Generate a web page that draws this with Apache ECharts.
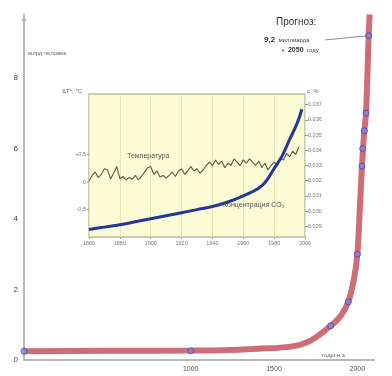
<!DOCTYPE html>
<html><head><meta charset="utf-8">
<script src="https://cdn.jsdelivr.net/npm/echarts@6/dist/echarts.min.js"></script>
<style>html,body{margin:0;padding:0;background:#fff}#c{width:392px;height:376px}</style>
</head><body><div id="c"></div>
<script>
// ---- main chart: world population (billions) ----
const popLineYears  = [0, 500, 1000, 1200, 1400, 1600, 1720, 1840, 1900, 1946, 1980, 2000, 2015, 2028, 2040, 2052, 2068, 2074];
const popLineValues = [0.25, 0.26, 0.27, 0.28, 0.32, 0.38, 0.55, 0.97, 1.25, 1.65, 2.3, 3.0, 4.3, 5.5, 6.4, 7.0, 9.2, 9.8];
const popPointYears  = [0, 1000, 1840, 1946, 2000, 2028, 2032, 2042, 2052, 2068];
const popPointValues = [0.25, 0.26, 0.97, 1.65, 3.0, 5.5, 6.0, 6.5, 7.0, 9.2];
const leaderYears  = [1808, 2068];
const leaderValues = [9.08, 9.2];
const mainXTicks = [1000, 1500, 2000];
const mainYTicks = [0, 2, 4, 6, 8];

// ---- inset: temperature & CO2 ----
const tempYears = [1860,1862,1864,1866,1868,1870,1872,1874,1876,1878,1880,1882,1884,1886,1888,1890,1892,1894,1896,1898,
  1900,1902,1904,1906,1908,1910,1912,1914,1916,1918,1920,1922,1924,1926,1928,1930,1932,1934,1936,1938,
  1940,1942,1944,1946,1948,1950,1952,1954,1956,1958,1960,1962,1964,1966,1968,1970,1972,1974,1976,1978,
  1980,1982,1984,1986,1988,1990,1992,1994,1996];
const tempValues = [0.02,0.12,0.18,0.08,0.14,0.24,0.22,0.06,0.16,0.28,0.06,0.10,0.04,0.08,0.05,0.12,0.04,0.10,0.18,0.26,
  0.28,0.14,0.20,0.09,0.12,0.07,0.12,0.18,0.10,0.20,0.24,0.14,0.20,0.28,0.20,0.24,0.16,0.22,0.30,0.36,
  0.30,0.40,0.32,0.38,0.26,0.34,0.30,0.42,0.36,0.30,0.40,0.34,0.42,0.36,0.30,0.38,0.26,0.34,0.22,0.30,
  0.36,0.30,0.44,0.40,0.52,0.46,0.56,0.50,0.64];
const co2Years  = [1860, 1870, 1880, 1890, 1900, 1910, 1920, 1930, 1940, 1950, 1960, 1970, 1975, 1980, 1985, 1990, 1995, 1998];
const co2Values = [0.0288, 0.02895, 0.0291, 0.0293, 0.0295, 0.0297, 0.0299, 0.0301, 0.0303, 0.0306, 0.0310, 0.0315, 0.0320, 0.0328, 0.0336, 0.0347, 0.0358, 0.0367];
const insetXTicks = [1860, 1880, 1900, 1920, 1940, 1960, 1980, 2000];
const tempTicks = [-0.5, 0, 0.5];
const co2Ticks = [0.029, 0.030, 0.031, 0.032, 0.033, 0.034, 0.035, 0.036, 0.037];

const FONT = '"Liberation Sans", Arial, sans-serif';
const zip = (a, b) => a.map((v, i) => [v, b[i]]);
const near = (list, v) => list.some(t => Math.abs(t - v) < 1e-6);
const ru = s => String(s).replace('.', ',');

const chart = echarts.init(document.getElementById('c'), null, {renderer: 'canvas'});
chart.setOption({
  animation: false,
  backgroundColor: '#ffffff',
  textStyle: {fontFamily: FONT},
  grid: [
    {left: 24, top: 14.5, width: 350, height: 345.5, show: false},
    {left: 89, top: 94, width: 216, height: 143, show: true, backgroundColor: '#fbfbd6',
     borderColor: '#bcbc98', borderWidth: 1.5, z: 5}
  ],
  xAxis: [
    {gridIndex: 0, type: 'value', min: 0, max: 2100, interval: 500,
     axisLine: {show: true, onZero: false, lineStyle: {color: '#b8b8b8', width: 2}},
     axisTick: {show: false}, splitLine: {show: false},
     axisLabel: {customValues: mainXTicks, formatter: v => near(mainXTicks, v) ? String(v) : '',
                 fontSize: 7, color: '#555', margin: 6, fontFamily: FONT}},
    {gridIndex: 1, type: 'value', min: 1860, max: 2000, interval: 20, z: 6,
     axisLine: {show: false, onZero: false},
     axisTick: {show: true, length: 2, lineStyle: {color: '#999'}},
     splitLine: {show: true, lineStyle: {color: '#e6e6bc', width: 1}},
     axisLabel: {fontSize: 5.5, color: '#777', margin: 3, fontFamily: FONT,
                 formatter: v => near(insetXTicks, v) ? String(v) : ''}}
  ],
  yAxis: [
    {gridIndex: 0, type: 'value', min: 0, max: 9.8, interval: 2,
     axisLine: {show: true, onZero: false, symbol: ['none', 'arrow'], symbolSize: [4, 7], lineStyle: {color: '#b8b8b8', width: 2}},
     axisTick: {show: false}, splitLine: {show: false},
     axisLabel: {customValues: mainYTicks, formatter: v => near(mainYTicks, v) ? String(v) : '',
                 fontSize: 8, color: '#444', margin: 6, fontFamily: FONT}},
    {gridIndex: 1, type: 'value', position: 'left', min: -1, max: 1.6, interval: 0.5, z: 6,
     axisLine: {show: false, onZero: false},
     axisTick: {show: true, customValues: tempTicks, length: 2, lineStyle: {color: '#999'}},
     splitLine: {show: false},
     axisLabel: {customValues: tempTicks, fontSize: 5.5, color: '#777', margin: 3, fontFamily: FONT,
                 formatter: v => near(tempTicks, v) ? (v > 0 ? '+' + ru(v) : ru(v)) : ''}},
    {gridIndex: 1, type: 'value', position: 'right', min: 0.0283, max: 0.0377, z: 6,
     axisLine: {show: false, onZero: false},
     axisTick: {show: true, customValues: co2Ticks, length: 3, lineStyle: {color: '#999'}},
     splitLine: {show: false},
     axisLabel: {customValues: co2Ticks, fontSize: 5.5, color: '#777', margin: 3, fontFamily: FONT,
                 formatter: v => near(co2Ticks, v) ? ru(v.toFixed(3)) : ''}}
  ],
  series: [
    {type: 'line', xAxisIndex: 0, yAxisIndex: 0, data: zip(popLineYears, popLineValues),
     smooth: 0.35, showSymbol: false, symbol: 'none',
     lineStyle: {color: '#cf6d76', width: 6}, z: 3},
    {type: 'line', xAxisIndex: 0, yAxisIndex: 0, data: zip(leaderYears, leaderValues),
     showSymbol: false, symbol: 'none', lineStyle: {color: '#8a8a8a', width: 1}, z: 3},
    {type: 'scatter', xAxisIndex: 0, yAxisIndex: 0, data: zip(popPointYears, popPointValues),
     symbol: 'circle', symbolSize: 6, itemStyle: {color: '#8585e0', borderColor: '#4545b5', borderWidth: 1}, z: 4},
    {type: 'line', xAxisIndex: 1, yAxisIndex: 1, data: zip(tempYears, tempValues),
     showSymbol: false, symbol: 'none', lineStyle: {color: '#5c5c3e', width: 1.1}, z: 10},
    {type: 'line', xAxisIndex: 1, yAxisIndex: 2, data: zip(co2Years, co2Values),
     smooth: 0.4, showSymbol: false, symbol: 'none',
     lineStyle: {color: '#22379a', width: 3}, z: 11}
  ],
  graphic: [
    {type: 'text', left: 28, top: 50, z: 20, style: {text: 'млрд человек', fontSize: 6, fill: '#666', fontFamily: FONT}},
    {type: 'text', left: 276, top: 17, z: 20, style: {text: 'Прогноз:', fontSize: 10, fill: '#333', fontFamily: FONT}},
    {type: 'text', left: 264, top: 34, z: 20, style: {text: '{b|9,2} {s|миллиарда}', fill: '#333', fontFamily: FONT,
      rich: {b: {fontSize: 8, fontWeight: 'bold', fill: '#333'}, s: {fontSize: 6, fill: '#444'}}}},
    {type: 'text', left: 282, top: 44, z: 20, style: {text: '{s|к} {b|2050} {s|году}', fill: '#333', fontFamily: FONT,
      rich: {b: {fontSize: 7, fontWeight: 'bold', fill: '#333'}, s: {fontSize: 6, fill: '#444'}}}},
    {type: 'text', left: 322, top: 352, z: 20, style: {text: 'годы н.э.', fontSize: 6, fill: '#666', fontFamily: FONT}},
    {type: 'text', left: 62, top: 88, z: 20, style: {text: 'ΔT°, °C', fontSize: 6, fill: '#666', fontFamily: FONT}},
    {type: 'text', left: 307, top: 88, z: 20, style: {text: 'c, %', fontSize: 6, fill: '#666', fontFamily: FONT}},
    {type: 'text', left: 127, top: 153, z: 20, style: {text: 'Температура', fontSize: 7, fill: '#555', fontFamily: FONT}},
    {type: 'text', left: 223, top: 202, z: 20, style: {text: 'Концентрация CO₂', fontSize: 7, fill: '#555', fontFamily: FONT}}
  ]
});
</script></body></html>
